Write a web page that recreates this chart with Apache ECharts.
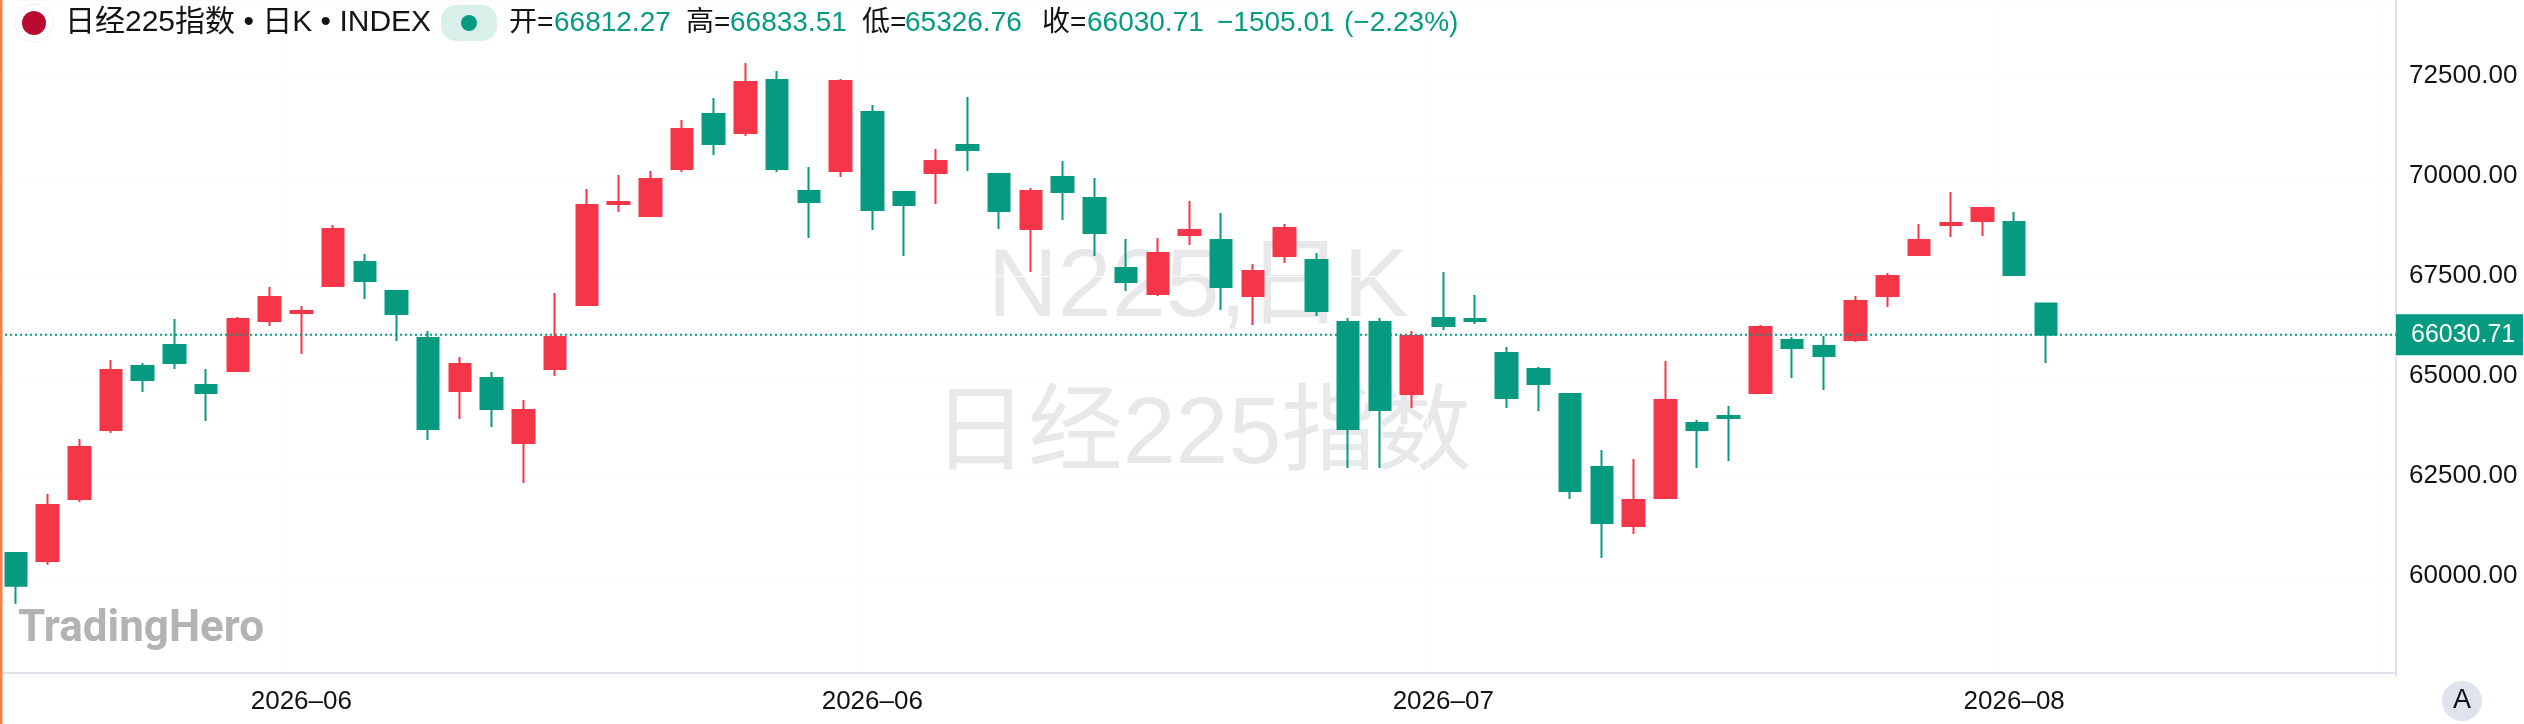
<!DOCTYPE html>
<html><head><meta charset="utf-8">
<script src="https://cdn.jsdelivr.net/npm/echarts@6/dist/echarts.min.js"></script>
<style>html,body{margin:0;padding:0;background:#fff}#c{width:2524px;height:724px}</style>
</head><body><div id="c"></div>
<script>
const opens =[60575,60375,61925,63650,65250,65775,64775,65125,66375,66575,67250,67850,67125,65950,64625,64950,63325,65175,66775,69300,69000,70175,71550,71075,72400,69625,70125,71600,69600,70075,70775,70050,68675,69975,69450,67700,67050,68525,68400,67000,68000,67900,66350,66350,64550,66450,66425,65575,65175,64550,62725,61250,61950,63825,64000,64575,65900,65750,65900,67000,68025,68775,68875,68850,66812.27];
const closes=[59758,61775,63225,65150,64900,65325,64575,66425,66975,66625,68675,67375,66550,63675,65300,64175,64150,65975,69275,69350,69925,71175,70800,72350,70175,69350,72375,69150,69275,70375,70650,69125,69625,69600,68575,67350,68075,68650,67225,67625,68700,66625,63675,64150,66000,66250,66375,64450,64800,62125,61325,61900,64400,63650,63950,66225,65700,65500,66875,67500,68400,68825,69200,67525,66030.71];
const lows  =[59308,60283,61850,63575,64600,65175,63875,65125,66250,65550,67250,66925,65875,63400,63925,63725,62325,65000,66775,69100,68975,70100,70525,71000,70100,68450,69975,68650,68000,69300,70125,68675,67600,68900,68000,67125,67000,68275,66650,66275,67825,66500,62700,62700,64200,66150,66300,64200,64125,61925,60450,61050,61950,62700,62875,64550,64950,64650,65850,66725,68000,68475,68500,67525,65326.76];
const highs =[60575,62050,63425,65400,65325,66425,65175,66475,67225,66750,68775,68050,67125,66125,65475,65100,64400,67075,69675,70025,70125,71400,71950,72825,72625,70225,72425,71775,69600,70675,71975,70075,69700,70375,69950,68425,68450,69375,69075,67800,68800,68075,66450,66450,66125,67600,67025,65725,65225,64575,63150,62925,65375,63900,64250,66275,65975,66000,67000,67575,68800,69600,69200,69100,66833.51];
const categories=['','','','','','','','','','2026-06','','','','','','','','','','','','','','','','','','2026-06','','','','','','','','','','','','','','','','','','2026-07','','','','','','','','','','','','','','','','','','2026-08','','','','','','','','','','',''];
const lastPrice=66030.71;
const yMin=57500, yMax=74400, yStep=2500;
const titleText='日经225指数 • 日K • INDEX';
const ohlcLabels=['开=','高=','低=','收='];
const ohlcValues=['66812.27','66833.51','65326.76','66030.71'];
const changeText='−1505.01';
const changePct='(−2.23%)';
const watermark1='N225,日K', watermark2='日经225指数', logo='TradingHero';

const RED='#f53649', GREEN='#069b81', TXT='#131313', AXIS='#e0e3eb', FAINT='#fbfbfc';
const FF='"Liberation Sans","Noto Sans CJK SC",sans-serif';
const candles=opens.map((o,i)=>[o,closes[i],lows[i],highs[i]]);
const isTick=(i,v)=>v!=='';
const t=(x,y,text,fill,size,extra)=>({type:'text',x,y,z:10,silent:true,style:Object.assign({text,fill,font:size+'px '+FF,textVerticalAlign:'middle',textAlign:'left'},extra||{})});

const chart=echarts.init(document.getElementById('c'),null,{renderer:'canvas'});
chart.setOption({
 animation:false,
 backgroundColor:'#fff',
 grid:[{left:0,top:0,width:2379,height:676},{left:0,top:0,width:2396,height:676}],
 xAxis:[
  {type:'category',gridIndex:0,data:categories,boundaryGap:true,offset:-3,
   axisLine:{show:false},axisTick:{show:false,alignWithLabel:true,interval:isTick},
   axisLabel:{interval:isTick,color:TXT,fontSize:26,fontFamily:FF,margin:16,formatter:v=>v.replace('-','–')},
   splitLine:{show:true,interval:isTick,lineStyle:{color:FAINT,width:1}}},
  {type:'value',gridIndex:1,min:0,max:1,offset:-3,axisLabel:{show:false},axisTick:{show:false},splitLine:{show:false},
   axisLine:{show:true,onZero:false,lineStyle:{color:AXIS,width:2}}}
 ],
 yAxis:[
  {type:'value',gridIndex:0,min:yMin,max:yMax,interval:yStep,show:false,splitLine:{show:false}},
  {type:'value',gridIndex:1,position:'right',min:yMin,max:yMax,interval:yStep,
   axisLine:{show:true,onZero:false,lineStyle:{color:AXIS,width:2}},axisTick:{show:false},
   splitLine:{show:true,lineStyle:{color:FAINT,width:1}},
   axisLabel:{color:TXT,fontSize:26,fontFamily:FF,margin:13,padding:[3,0,0,0],showMinLabel:false,showMaxLabel:false,formatter:v=>v.toFixed(2)}}
 ],
 series:[
  {type:'candlestick',xAxisIndex:0,yAxisIndex:0,barWidth:22,data:candles,z:3,
   itemStyle:{color:RED,color0:GREEN,borderColor:RED,borderColor0:GREEN,borderWidth:2}},
  {type:'line',xAxisIndex:1,yAxisIndex:1,data:[[0,lastPrice],[1,lastPrice]],symbol:'none',z:4,clip:false,
   lineStyle:{color:GREEN,width:2,type:[2,3]},
   endLabel:{show:true,distance:0,formatter:()=>lastPrice.toFixed(2),color:'#fff',fontSize:25,fontFamily:FF,
     backgroundColor:GREEN,width:112,height:41,lineHeight:41,padding:[0,0,0,15],align:'left',verticalAlign:'middle'}}
 ],
 graphic:{elements:[
  {type:'rect',z:20,silent:true,shape:{x:0,y:0,width:2.5,height:724},style:{fill:'#f77f4a'}},
  {type:'text',z:-1,silent:true,x:1198,y:289,style:{text:watermark1,fill:'#e8e8ea',font:'97px '+FF,textAlign:'center',textVerticalAlign:'middle'}},
  {type:'text',z:-1,silent:true,x:1202,y:437,style:{text:watermark2,fill:'#e8e8ea',font:'95px '+FF,textAlign:'center',textVerticalAlign:'middle'}},
  {type:'text',z:1,silent:true,x:18,y:630,style:{text:logo,fill:'#b3b3b3',font:'bold 44px Roboto,Lato,sans-serif',textAlign:'left',textVerticalAlign:'middle'}},
  {type:'circle',z:10,silent:true,shape:{cx:34,cy:23,r:19},style:{fill:'#fff',stroke:'#f0f0f0',lineWidth:1}},
  {type:'circle',z:11,silent:true,shape:{cx:34,cy:23,r:12},style:{fill:'#bb0a30'}},
  t(65,23,titleText,TXT,30),
  {type:'rect',z:10,silent:true,shape:{x:441,y:5,width:56,height:36,r:15},style:{fill:'#d8efea'}},
  {type:'circle',z:11,silent:true,shape:{cx:469,cy:23,r:8},style:{fill:GREEN}},
  t(509,23,ohlcLabels[0],TXT,28), t(554,23,ohlcValues[0],GREEN,28),
  t(686,23,ohlcLabels[1],TXT,28), t(730,23,ohlcValues[1],GREEN,28),
  t(862,23,ohlcLabels[2],TXT,28), t(905,23,ohlcValues[2],GREEN,28),
  t(1042,23,ohlcLabels[3],TXT,28), t(1087,23,ohlcValues[3],GREEN,28),
  t(1217,23,changeText,GREEN,28), t(1344,23,changePct,GREEN,28),
  {type:'ellipse',z:10,silent:true,shape:{cx:2462,cy:701,rx:20,ry:20},style:{fill:'#dfe3ee'}},
  t(2462,701,'A',TXT,27,{textAlign:'center'})
 ]}
});
</script></body></html>
